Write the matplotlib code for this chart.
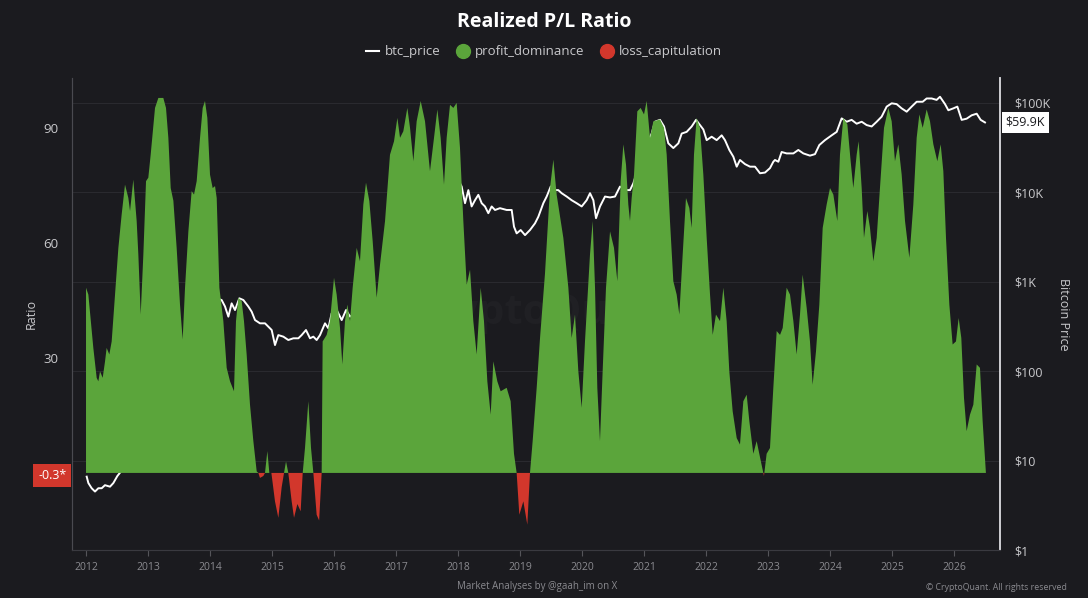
import numpy as np
import matplotlib
matplotlib.use("Agg")
import matplotlib.pyplot as plt
from matplotlib.lines import Line2D

plt.rcParams['font.family'] = ['Open Sans', 'DejaVu Sans']

# realized P/L ratio (decimal year, value)
ratio_years = [
    2012.000, 2012.038, 2012.118, 2012.172, 2012.199, 2012.226, 2012.269, 2012.306, 2012.333, 2012.376,
    2012.414, 2012.468, 2012.522, 2012.575, 2012.629, 2012.683, 2012.710, 2012.763, 2012.817, 2012.844,
    2012.882, 2012.925, 2012.968, 2013.005, 2013.043, 2013.113, 2013.167, 2013.247, 2013.290, 2013.328,
    2013.366, 2013.409, 2013.462, 2013.516, 2013.559, 2013.597, 2013.651, 2013.704, 2013.742, 2013.785,
    2013.839, 2013.882, 2013.919, 2013.957, 2014.000, 2014.043, 2014.081, 2014.108, 2014.151, 2014.215,
    2014.269, 2014.323, 2014.387, 2014.419, 2014.457, 2014.511, 2014.548, 2014.591, 2014.645, 2014.699,
    2014.753, 2014.780, 2014.806, 2014.860, 2014.887, 2014.925, 2014.957, 2014.990, 2015.048, 2015.102,
    2015.156, 2015.194, 2015.226, 2015.263, 2015.317, 2015.355, 2015.409, 2015.462, 2015.495, 2015.532,
    2015.586, 2015.629, 2015.667, 2015.720, 2015.760, 2015.801, 2015.817, 2015.882, 2015.935, 2016.000,
    2016.043, 2016.097, 2016.134, 2016.177, 2016.215, 2016.258, 2016.301, 2016.366, 2016.419, 2016.473,
    2016.516, 2016.570, 2016.624, 2016.688, 2016.742, 2016.823, 2016.903, 2016.968, 2017.022, 2017.065,
    2017.118, 2017.183, 2017.226, 2017.280, 2017.333, 2017.398, 2017.468, 2017.548, 2017.613, 2017.667,
    2017.720, 2017.774, 2017.817, 2017.871, 2017.925, 2017.978, 2018.032, 2018.086, 2018.140, 2018.194,
    2018.247, 2018.301, 2018.366, 2018.419, 2018.473, 2018.527, 2018.570, 2018.634, 2018.688, 2018.785,
    2018.849, 2018.903, 2018.946, 2018.989, 2019.054, 2019.118, 2019.161, 2019.204, 2019.269, 2019.323,
    2019.403, 2019.484, 2019.538, 2019.591, 2019.699, 2019.780, 2019.833, 2019.887, 2019.941, 2019.995,
    2020.048, 2020.129, 2020.172, 2020.210, 2020.247, 2020.290, 2020.333, 2020.387, 2020.452, 2020.516,
    2020.570, 2020.624, 2020.667, 2020.710, 2020.747, 2020.774, 2020.801, 2020.839, 2020.892, 2020.946,
    2021.000, 2021.043, 2021.097, 2021.151, 2021.258, 2021.323, 2021.366, 2021.419, 2021.473, 2021.527,
    2021.570, 2021.624, 2021.677, 2021.731, 2021.769, 2021.806, 2021.849, 2021.903, 2021.957, 2022.011,
    2022.065, 2022.108, 2022.161, 2022.226, 2022.280, 2022.333, 2022.376, 2022.430, 2022.495, 2022.548,
    2022.602, 2022.656, 2022.699, 2022.763, 2022.817, 2022.871, 2022.935, 2022.978, 2023.032, 2023.086,
    2023.140, 2023.194, 2023.237, 2023.301, 2023.355, 2023.409, 2023.462, 2023.516, 2023.559, 2023.624,
    2023.677, 2023.720, 2023.774, 2023.828, 2023.882, 2023.946, 2024.000, 2024.054, 2024.118, 2024.161,
    2024.215, 2024.280, 2024.333, 2024.376, 2024.430, 2024.462, 2024.511, 2024.548, 2024.602, 2024.645,
    2024.699, 2024.753, 2024.806, 2024.871, 2024.941, 2024.995, 2025.048, 2025.102, 2025.156, 2025.210,
    2025.280, 2025.344, 2025.398, 2025.441, 2025.495, 2025.559, 2025.613, 2025.667, 2025.731, 2025.785,
    2025.828, 2025.871, 2025.925, 2025.978, 2026.032, 2026.075, 2026.118, 2026.161, 2026.204, 2026.258,
    2026.312, 2026.366, 2026.419, 2026.462, 2026.516,
]
ratio_values = [
    48.3, 46.5, 32.6, 24.8, 23.9, 26.5, 24.8, 29.0, 32.6, 30.9,
    34.3, 46.5, 58.7, 67.4, 75.2, 71.7, 68.3, 76.5, 65.7, 57.0,
    41.3, 57.0, 76.1, 77.0, 83.0, 95.2, 97.8, 97.8, 95.2, 87.4,
    74.3, 71.0, 58.7, 43.9, 34.8, 48.3, 63.0, 73.5, 72.6, 76.1,
    87.4, 95.2, 97.0, 92.6, 77.8, 74.3, 74.8, 71.7, 48.3, 39.6,
    27.4, 23.9, 21.3, 39.6, 45.7, 44.8, 39.6, 30.9, 17.8, 8.3,
    0.4, 0.0, -1.3, -0.8, 0.0, 5.7, 0.0, 0.0, -7.4, -11.7,
    -3.7, 0.0, 3.0, 0.0, -7.4, -11.7, -8.1, -10.0, 0.0, 6.5,
    18.7, 6.5, 0.0, -10.9, -12.4, 0.0, 34.3, 36.0, 39.6, 50.9,
    46.5, 37.8, 28.3, 39.6, 43.9, 39.6, 48.3, 58.7, 55.2, 70.0,
    75.7, 70.9, 60.4, 45.7, 54.3, 65.7, 83.0, 86.5, 92.6, 87.4,
    89.1, 95.2, 90.0, 81.3, 91.7, 97.0, 91.7, 78.7, 87.4, 94.8,
    87.4, 75.2, 87.4, 96.0, 95.2, 96.5, 84.8, 65.7, 49.1, 53.0,
    39.6, 30.9, 48.3, 39.6, 23.9, 15.2, 29.1, 23.9, 21.3, 22.2,
    18.7, 5.0, 0.0, -10.9, -7.4, -13.5, 0.0, 8.3, 22.2, 35.2,
    52.0, 74.3, 81.7, 72.6, 61.3, 48.3, 35.2, 41.3, 26.5, 17.0,
    34.3, 57.0, 65.7, 48.3, 22.2, 8.3, 26.5, 48.3, 63.0, 58.7,
    50.0, 76.1, 85.7, 80.4, 70.0, 65.7, 71.7, 77.8, 94.3, 95.2,
    93.5, 97.0, 87.4, 91.7, 92.2, 90.0, 83.0, 65.7, 50.0, 46.5,
    41.3, 57.0, 71.7, 69.1, 63.9, 83.0, 92.6, 90.0, 77.8, 61.3,
    46.5, 36.0, 41.3, 39.6, 48.3, 39.6, 26.5, 16.1, 9.1, 7.4,
    18.7, 20.4, 13.5, 5.0, 8.3, 4.1, -0.8, 5.0, 6.5, 22.2,
    37.0, 36.0, 37.8, 48.3, 46.5, 39.6, 30.9, 41.3, 51.7, 43.0,
    34.3, 23.0, 31.7, 43.9, 63.9, 70.0, 74.3, 72.6, 65.7, 83.0,
    92.6, 90.9, 81.3, 74.3, 83.0, 86.5, 74.3, 61.3, 68.3, 63.9,
    55.2, 61.3, 74.3, 90.0, 95.2, 91.7, 81.3, 85.7, 77.8, 65.7,
    56.1, 70.0, 87.4, 93.5, 90.0, 94.8, 91.7, 85.7, 81.3, 85.7,
    78.7, 61.3, 43.9, 33.5, 34.3, 40.4, 35.2, 19.6, 10.9, 15.2,
    17.8, 28.3, 27.4, 13.5, -0.3,
]

# btc price (decimal year, USD)
price_years = [
    2012.011, 2012.038, 2012.091, 2012.145, 2012.199, 2012.253, 2012.306, 2012.387, 2012.441, 2012.505,
    2012.650, 2012.750, 2012.900, 2013.050, 2013.200, 2013.280, 2013.320, 2013.450, 2013.550, 2013.650,
    2013.750, 2013.850, 2013.920, 2014.000, 2014.100, 2014.188, 2014.242, 2014.296, 2014.349, 2014.403,
    2014.473, 2014.538, 2014.618, 2014.672, 2014.726, 2014.806, 2014.887, 2014.941, 2014.995, 2015.048,
    2015.102, 2015.183, 2015.263, 2015.344, 2015.425, 2015.478, 2015.548, 2015.613, 2015.667, 2015.720,
    2015.774, 2015.855, 2015.909, 2015.962, 2016.043, 2016.124, 2016.194, 2016.258, 2016.350, 2016.450,
    2016.550, 2016.690, 2016.800, 2016.950, 2017.050, 2017.200, 2017.300, 2017.450, 2017.550, 2017.650,
    2017.750, 2017.850, 2017.960, 2018.020, 2018.059, 2018.113, 2018.167, 2018.220, 2018.274, 2018.328,
    2018.382, 2018.435, 2018.489, 2018.543, 2018.597, 2018.677, 2018.785, 2018.866, 2018.903, 2018.946,
    2019.011, 2019.081, 2019.161, 2019.242, 2019.296, 2019.376, 2019.430, 2019.495, 2019.538, 2019.618,
    2019.672, 2019.753, 2019.833, 2019.914, 2019.995, 2020.075, 2020.129, 2020.183, 2020.226, 2020.290,
    2020.371, 2020.452, 2020.532, 2020.613, 2020.694, 2020.774, 2020.828, 2020.900, 2020.970, 2021.050,
    2021.124, 2021.177, 2021.258, 2021.323, 2021.392, 2021.473, 2021.554, 2021.608, 2021.688, 2021.769,
    2021.839, 2021.903, 2021.957, 2022.011, 2022.091, 2022.172, 2022.253, 2022.306, 2022.376, 2022.441,
    2022.495, 2022.548, 2022.629, 2022.710, 2022.790, 2022.871, 2022.952, 2023.032, 2023.086, 2023.113,
    2023.167, 2023.220, 2023.301, 2023.409, 2023.489, 2023.570, 2023.677, 2023.758, 2023.828, 2023.919,
    2024.027, 2024.108, 2024.188, 2024.269, 2024.349, 2024.430, 2024.511, 2024.591, 2024.672, 2024.753,
    2024.833, 2024.914, 2024.995, 2025.075, 2025.156, 2025.237, 2025.317, 2025.398, 2025.495, 2025.559,
    2025.640, 2025.720, 2025.774, 2025.855, 2025.909, 2025.989, 2026.054, 2026.124, 2026.204, 2026.285,
    2026.366, 2026.430, 2026.500,
]
price_values = [
    6.6, 5.6, 4.9, 4.5, 4.9, 4.9, 5.3, 5.1, 5.6, 6.7,
    9, 11, 12, 20, 80, 200, 100, 110, 70, 110,
    130, 500, 1100, 800, 650, 621, 526, 405, 570, 480,
    649, 621, 526, 460, 371, 341, 341, 313, 287, 195,
    252, 242, 222, 232, 232, 252, 287, 232, 242, 222,
    252, 341, 300, 441, 480, 371, 480, 405, 450, 620,
    650, 595, 700, 950, 1000, 1100, 1300, 2500, 2600, 4300,
    5000, 8000, 17000, 13000, 11500, 7500, 10500, 6900, 8100, 9300,
    7500, 6900, 5800, 6900, 6300, 6600, 6300, 6300, 4100, 3450,
    3760, 3300, 3760, 4470, 5300, 7500, 8900, 11500, 10500, 10500,
    9700, 8900, 8100, 7500, 6900, 8100, 9700, 8100, 5100, 6900,
    8900, 8700, 8900, 11500, 10500, 10500, 12500, 18000, 28000, 35000,
    45000, 61000, 64000, 54000, 35000, 31000, 35000, 45000, 47000, 54000,
    64000, 56000, 50000, 38000, 41500, 38000, 43000, 38000, 29500, 24800,
    19200, 22800, 20500, 19200, 19200, 16200, 16500, 18500, 21800, 22800,
    21800, 28000, 27000, 27000, 29500, 27000, 25500, 26500, 33500, 38000,
    43000, 47000, 66500, 61000, 64000, 58000, 61000, 56000, 54000, 61000,
    69500, 90000, 98000, 96000, 86000, 79000, 90000, 102000, 102000, 111000,
    111000, 107000, 116000, 96000, 82000, 86000, 90000, 64000, 66000, 72000,
    75000, 64000, 59900,
]

year_ticks = list(range(2012, 2027))
price_ticks = [1, 10, 100, 1000, 10000, 100000]
price_tick_labels = ['$1', '$10', '$100', '$1K', '$10K', '$100K']
ratio_ticks = [30, 60, 90]

BG = '#1b1b1f'
GREEN = '#5ba53b'
RED = '#d2372c'
TXT = '#c9c9cc'

fig = plt.figure(figsize=(10.88, 5.98), dpi=100, facecolor=BG)
ax2 = fig.add_axes([72 / 1088, 48 / 598, 928 / 1088, 472 / 598])
ax = ax2.twinx()
ax2.set_facecolor(BG)
ax.patch.set_visible(False)
ax.set_zorder(ax2.get_zorder() + 1)

# price axis sits under the ratio area, ticks on the right
ax2.plot(price_years, price_values, color='white', lw=1.4)
ax2.set_yscale('log')
ax2.set_ylim(1, 10 ** 5.274)
ax2.set_yticks(price_ticks)
ax2.set_yticklabels(price_tick_labels)
ax2.yaxis.set_minor_locator(matplotlib.ticker.NullLocator())
ax2.yaxis.tick_right()
ax2.yaxis.set_label_position('right')
ax2.tick_params(axis='y', colors=TXT, labelsize=9, length=0, pad=10)
ax2.grid(axis='y', color='#2a2a2f', lw=0.8)
ax2.set_ylabel('Bitcoin Price', color=TXT, fontsize=9, rotation=-90, labelpad=14)

# ratio axis, ticks on the left
r = np.array(ratio_values)
ax.fill_between(ratio_years, 0, r, where=r >= 0, interpolate=True, color=GREEN, lw=0)
ax.fill_between(ratio_years, 0, r, where=r <= 0, interpolate=True, color=RED, lw=0)
ax.set_ylim(-20.1, 103)
ax.yaxis.tick_left()
ax.yaxis.set_label_position('left')
ax.set_yticks(ratio_ticks)
ax.tick_params(axis='y', colors=TXT, labelsize=9.5, length=0, pad=10)
ax.set_ylabel('Ratio', color=TXT, fontsize=9, labelpad=4)

ax2.set_xlim(2011.774, 2026.742)
ax2.set_xticks(year_ticks)
ax2.set_xticklabels([str(y) for y in year_ticks])
ax2.tick_params(axis='x', colors='#55555a', labelcolor='#8a8a8f', labelsize=7.5, length=4, pad=5)

for a in (ax, ax2):
    a.spines['top'].set_visible(False)
    a.spines['left'].set_color('#4a4a50')
    a.spines['right'].set_color('#d0d0d4')
    a.spines['right'].set_linewidth(1.2)
    a.spines['bottom'].set_color('#3a3a40')

# current value tags
ax.annotate('-0.3*', xy=(0, -0.3), xycoords=('axes fraction', 'data'),
            xytext=(-4, -1), textcoords='offset points', ha='right', va='center',
            color='white', fontsize=9,
            bbox=dict(boxstyle='square,pad=0.4', fc=RED, ec='none'))
ax2.annotate('$59.9K', xy=(1, 59900), xycoords=('axes fraction', 'data'),
             xytext=(4, 0), textcoords='offset points', ha='left', va='center',
             color='#1b1b1f', fontsize=9,
             bbox=dict(boxstyle='square,pad=0.3', fc='white', ec='none'))

# faint watermark
fig.text(545 / 1088, 1 - 313 / 598, 'CryptoQuant', color='#2a2a2e', alpha=0.35,
         fontsize=30, fontweight='bold', ha='center', va='center', zorder=0)

fig.text(0.5, 1 - 22 / 598, 'Realized P/L Ratio', color='white', fontsize=14,
         fontweight='bold', ha='center', va='center')
handles = [
    Line2D([], [], color='white', lw=1.5),
    Line2D([], [], color=GREEN, marker='o', ls='none', markersize=10),
    Line2D([], [], color=RED, marker='o', ls='none', markersize=10),
]
fig.legend(handles, ['btc_price', 'profit_dominance', 'loss_capitulation'],
           loc='center', bbox_to_anchor=(0.5, 1 - 52 / 598), ncol=3, frameon=False,
           fontsize=9.5, labelcolor=TXT, handlelength=1.0, handletextpad=0.4,
           columnspacing=1.2)

fig.text(537 / 1088, 1 - 586 / 598, 'Market Analyses by @gaah_im on X', color='#8a8a8f',
         fontsize=7, ha='center', va='center')
fig.text(1067 / 1088, 1 - 587 / 598, '\u00a9 CryptoQuant. All rights reserved',
         color='#8a8a8f', fontsize=6.3, ha='right', va='center')

fig.savefig('out.png', dpi=100, facecolor=BG)
